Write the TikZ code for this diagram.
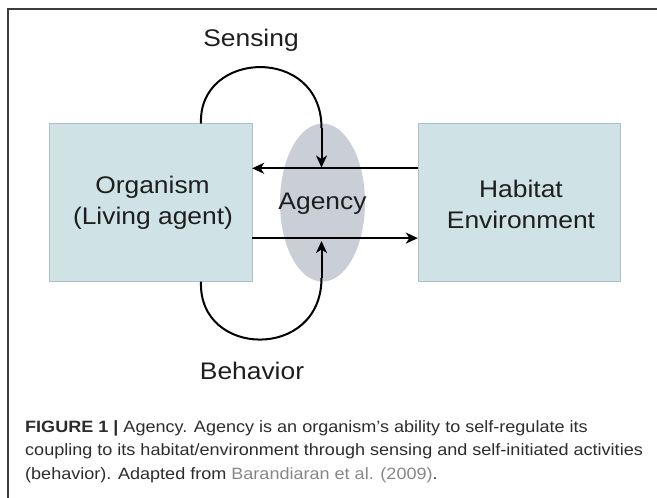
\documentclass[tikz,border=0pt]{standalone}
\usepackage{fontspec}
\setmainfont[FakeStretch=1.1]{Liberation Sans}
\usetikzlibrary{arrows.meta,shapes.geometric}
\definecolor{boxfill}{RGB}{207,226,230}
\definecolor{boxline}{RGB}{170,192,197}
\definecolor{ellfill}{RGB}{201,206,215}
\definecolor{framecol}{RGB}{60,60,60}
\definecolor{txt}{RGB}{30,30,30}
\definecolor{captxt}{RGB}{45,45,45}
\definecolor{citecol}{RGB}{135,135,135}
\tikzset{
  boxnode/.style={draw=boxline, line width=0.6pt, fill=boxfill, minimum width=202.5pt, minimum height=158.2pt, inner sep=0pt},
  ellnode/.style={ellipse, fill=ellfill, minimum width=85pt, minimum height=158pt, inner sep=0pt},
  lbl/.style={anchor=base, text=txt, font=\fontsize{24}{28}\selectfont, inner sep=0pt},
  captext/.style={anchor=base west, text=captxt, font=\fontsize{16.4}{20}\selectfont, inner sep=0pt},
  arr/.style={line width=2pt, -{Stealth[length=12pt,width=11pt,inset=3.5pt]}},
  curvel/.style={line width=2pt},
}
\begin{document}
\begin{tikzpicture}[x=1pt,y=-1pt]
\useasboundingbox (0,0) rectangle (657,498);
\fill[white] (0,0) rectangle (657,498);
% frame (top and left edges)
\draw[framecol, line width=1.5pt] (8,498) -- (8,9) -- (657,9);
% ellipse and boxes
\node[ellnode] (agency) at (322.5,202.6) {};
\node[boxnode] (org) at (150.6,202.6) {};
\node[boxnode] (env) at (519.4,202.6) {};
% labels
\node[lbl] (orgA) at (152.5,193) {Organism};
\node[lbl] (orgB) at (153,224) {(Living agent)};
\node[lbl] (envA) at (521,197) {Habitat};
\node[lbl] (envB) at (521,228) {Environment};
\node[lbl] (agencyT) at (322.5,209.5) {Agency};
\node[lbl] (sensing) at (251,46) {Sensing};
\node[lbl] (behavior) at (252,379) {Behavior};
% horizontal arrows
\draw[arr] ([yshift=34.3pt]env.west) -- ([yshift=34.3pt]org.east);
\draw[arr] ([yshift=-35.5pt]org.east) -- ([yshift=-35.5pt]env.west);
% sensing loop
\coordinate (sStart) at (201,123.5);
\coordinate (sMid) at (321.5,128);
\coordinate (sEnd) at (321.5,167.5);
\draw[curvel] (sStart) .. controls (198,50) and (321.5,45) .. (sMid);
\draw[arr] (sMid) -- (sEnd);
% behavior loop
\coordinate (bStart) at (201,281.7);
\coordinate (bMid) at (321.5,278);
\coordinate (bEnd) at (321.5,241);
\draw[curvel] (bStart) .. controls (198,358) and (321.5,361) .. (bMid);
\draw[arr] (bMid) -- (bEnd);
% caption
\node[captext] (cap1) at (25,432) {\textbf{FIGURE 1 |} Agency. Agency is an organism’s ability to self-regulate its};
\node[captext] (cap2) at (25,455.5) {coupling to its habitat/environment through sensing and self-initiated activities};
\node[captext] (cap3) at (25,479) {(behavior). Adapted from \textcolor{citecol}{Barandiaran et al. (2009)}.};
\end{tikzpicture}
\end{document}
